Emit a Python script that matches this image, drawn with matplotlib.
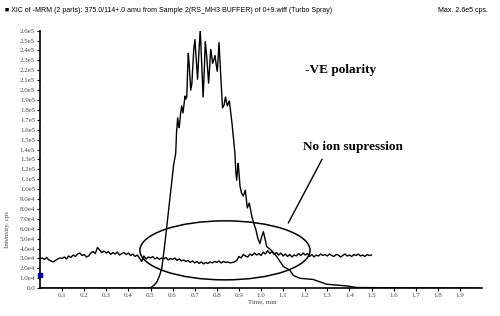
import numpy as np
import matplotlib
matplotlib.use("Agg")
import matplotlib.pyplot as plt
from matplotlib.patches import Ellipse
from matplotlib.ticker import FuncFormatter

# baseline trace (no ion suppression), 0.00 .. 1.50 min step 0.01, intensity in 1e4 cps
base_time = [round(0.01 * i, 2) for i in range(151)]
base_1e4 = [
    2.95, 3.05, 2.90, 3.10, 2.85, 2.75, 2.65, 2.80, 2.95, 3.05,
    3.00, 3.15, 2.95, 3.25, 3.10, 3.35, 3.20, 3.45, 3.55, 3.30,
    3.40, 3.15, 3.25, 3.55, 3.70, 3.50, 4.10, 3.85, 3.60, 3.75,
    3.55, 3.70, 3.40, 3.60, 3.45, 3.65, 3.35, 3.50, 3.60, 3.40,
    3.55, 3.30, 3.45, 3.20, 3.35, 3.05, 2.70, 3.25, 2.95, 3.15,
    3.05, 3.20, 2.95, 3.10, 2.90, 3.05, 2.95, 3.10, 2.85, 3.00,
    2.90, 3.05, 2.80, 2.95, 2.75, 2.85, 2.70, 2.80, 2.60, 2.75,
    2.55, 2.70, 2.50, 2.65, 2.45, 2.60, 2.50, 2.65, 2.55, 2.70,
    2.60, 2.75, 2.55, 2.70, 2.60, 2.65, 2.55, 2.60, 2.65, 2.80,
    3.20, 3.05, 3.40, 3.25, 3.15, 3.45, 3.30, 3.55, 3.35, 3.50,
    3.30, 3.65, 3.45, 3.80, 3.50, 3.70, 3.40, 3.60, 3.35, 3.55,
    3.25, 3.45, 3.20, 3.40, 3.15, 3.35, 3.25, 3.50, 3.30, 3.55,
    3.35, 3.50, 3.20, 3.40, 3.15, 3.35, 3.25, 3.45, 3.30, 3.40,
    3.25, 3.45, 3.30, 3.20, 3.40, 3.35, 3.15, 3.30, 3.45, 3.25,
    3.35, 3.20, 3.40, 3.30, 3.45, 3.25, 3.35, 3.20, 3.40, 3.30, 3.35,
]

# analyte peak trace
peak_time = [0.00, 0.48, 0.50, 0.511, 0.520, 0.528, 0.54, 0.551, 0.565, 0.58,
             0.595, 0.605, 0.614, 0.618, 0.623, 0.627, 0.630, 0.636, 0.641, 0.647,
             0.652, 0.656, 0.660, 0.664, 0.668, 0.671, 0.675, 0.682, 0.687, 0.691,
             0.696, 0.701, 0.706, 0.713, 0.719, 0.725, 0.731, 0.738, 0.743, 0.748,
             0.755, 0.763, 0.768, 0.772, 0.776, 0.781, 0.786, 0.792, 0.797, 0.802,
             0.806, 0.810, 0.818, 0.826, 0.833, 0.839, 0.844, 0.848, 0.853, 0.857,
             0.870, 0.882, 0.886, 0.890, 0.894, 0.897, 0.905, 0.912, 0.920, 0.929,
             0.938, 0.947, 0.959, 0.968, 0.977, 0.986, 0.995, 1.003, 1.011, 1.026,
             1.048, 1.071, 1.101, 1.131, 1.146, 1.176, 1.236, 1.297, 1.388, 1.433,
             1.55, 1.70, 1.99]
peak_1e4 = [0.0, 0.0, 0.05, 0.2, 0.4, 0.6, 1.2, 2.0, 4.5, 7.5,
            10.5, 12.5, 13.6, 15.8, 17.2, 16.4, 16.2, 17.6, 18.4, 17.7,
            18.6, 19.4, 19.1, 19.3, 22.0, 23.7, 22.6, 20.0, 20.6, 22.2,
            24.2, 25.1, 23.4, 21.1, 23.8, 26.1, 23.0, 19.3, 21.8, 24.9,
            23.2, 20.7, 22.4, 24.1, 23.6, 22.7, 23.0, 23.5, 22.6, 21.9,
            23.2, 24.8, 21.4, 18.2, 18.5, 19.3, 18.8, 18.4, 18.7, 18.9,
            16.4, 13.6, 11.8, 10.9, 12.0, 12.6, 10.3, 9.6, 9.3, 9.9,
            8.1, 8.6, 7.2, 6.5, 5.9, 5.0, 4.5, 5.2, 5.7, 4.2,
            3.8, 3.2, 2.2, 1.8, 1.3, 1.0, 0.88, 0.4, 0.23, 0.07,
            0.05, 0.03, 0.0]

x_ticks = [0.1, 0.2, 0.3, 0.4, 0.5, 0.6, 0.7, 0.8, 0.9, 1.0,
           1.1, 1.2, 1.3, 1.4, 1.5, 1.6, 1.7, 1.8, 1.9]
y_ticks = [i * 1e4 for i in range(27)]

title = "XIC of -MRM (2 parts): 375.0/114+.0 amu from Sample 2(RS_MH3 BUFFER) of 0+9.wiff (Turbo Spray)"

serif = ["Liberation Serif", "DejaVu Serif"]
sans = ["Liberation Sans", "DejaVu Sans"]

fig = plt.figure(figsize=(5, 3.16), dpi=100)
ax = fig.add_axes([0.08, 0.088, 0.884, 0.815])

ax.plot(base_time, np.array(base_1e4) * 1e4, color="black", lw=1.0)
ax.plot(peak_time, np.array(peak_1e4) * 1e4, color="black", lw=1.0)

ax.add_patch(Ellipse((0.837, 3.82e4), 0.77, 5.96e4, fill=False, edgecolor="black", lw=1.1))
ax.plot([1.276, 1.124], [13.0e4, 6.6e4], color="black", lw=1.0)

ax.text(1.199, 22.0e4, "-VE polarity", family=serif, fontweight="bold", fontsize=9.5, va="center")
ax.text(1.189, 14.3e4, "No ion supression", family=serif, fontweight="bold", fontsize=9.5, va="center")

ax.plot([0], [1.3e4], marker="s", color="blue", ms=2.5, clip_on=False)

ax.set_xlim(0, 2.0)
ax.set_ylim(0, 2.6e5)
ax.set_xticks(x_ticks)
ax.set_xticklabels(["%.1f" % t for t in x_ticks])
ax.set_yticks(y_ticks)


def yfmt(v, pos):
    if v == 0:
        return "0.0"
    if v >= 1e5:
        return "%.1fe5" % (v / 1e5)
    return "%.1fe4" % (v / 1e4)


ax.yaxis.set_major_formatter(FuncFormatter(yfmt))
for s in ["top", "right"]:
    ax.spines[s].set_visible(False)
for s in ["left", "bottom"]:
    ax.spines[s].set_linewidth(1.2)
ax.tick_params(axis="both", direction="out", length=2, width=0.8, labelsize=5, pad=1.5,
               labelcolor="#444444")
for lab in ax.get_xticklabels() + ax.get_yticklabels():
    lab.set_family(serif)

ax.text(0.503, -0.045, "Time, min", transform=ax.transAxes, family=serif, fontsize=5,
        ha="center", va="top", color="#444444")
fig.text(0.016, 0.275, "Intensity, cps", rotation=90, family=serif, fontsize=5,
         ha="center", va="center", color="#444444")

fig.text(0.01, 0.967, "\u25a0 " + title, family=sans, fontsize=5, va="center")
fig.text(0.975, 0.967, "Max. 2.6e5 cps.", family=sans, fontsize=5, va="center", ha="right")

fig.savefig("out.png", dpi=100)
